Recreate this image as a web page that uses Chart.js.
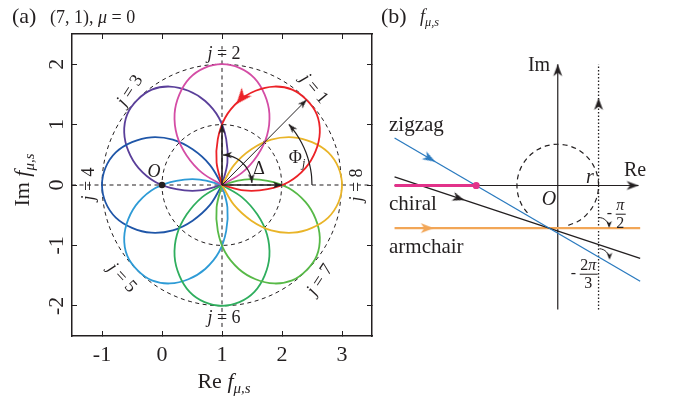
<!DOCTYPE html>
<html><head><meta charset="utf-8">
<script src="https://cdn.jsdelivr.net/npm/chart.js@4.4.1/dist/chart.umd.min.js"></script>
<style>
html,body{margin:0;padding:0;background:#fff;}
#wrap{position:relative;width:678px;height:403px;overflow:hidden;font-family:"Liberation Serif","Times New Roman",serif;color:#231f20;}
#ca{position:absolute;left:0;top:0;}
#cb{position:absolute;left:378px;top:0;}
.t{position:absolute;white-space:nowrap;line-height:1;transform:translate(-50%,-50%);}
.l{position:absolute;white-space:nowrap;line-height:1;transform:translate(0,-50%);}
i{font-style:italic;}
sub{font-size:0.68em;vertical-align:-0.35em;line-height:0;}
.frac{display:inline-flex;flex-direction:column;align-items:center;vertical-align:middle;}
.frac span{line-height:1.05;}
.frac .num{border-bottom:1px solid #231f20;padding:0 1px;}
</style></head><body>
<div id="wrap">
<canvas id="ca" width="378" height="403"></canvas>
<canvas id="cb" width="300" height="403"></canvas>

<div class="l" style="left:12px;top:16px;font-size:22px">(a)</div>
<div class="l" style="left:50px;top:17px;font-size:18px">(7, 1), <i>μ</i> = 0</div>
<div class="t" style="left:224px;top:381px;font-size:22px">Re <i>f</i><sub><i>μ,s</i></sub></div>
<div class="t" style="left:22px;top:180px;font-size:22px;transform:translate(-50%,-50%) rotate(-90deg)">Im <i>f</i><sub><i>μ,s</i></sub></div>

<div class="t" style="left:224px;top:53px;font-size:18px"><i>j</i> = 2</div>
<div class="t" style="left:224px;top:317px;font-size:18px"><i>j</i> = 6</div>
<div class="t" style="left:88px;top:184px;font-size:18px;transform:translate(-50%,-50%) rotate(-90deg)"><i>j</i> = 4</div>
<div class="t" style="left:356px;top:185px;font-size:18px;transform:translate(-50%,-50%) rotate(-90deg)"><i>j</i> = 8</div>
<div class="t" style="left:129px;top:90px;font-size:18px;transform:translate(-50%,-50%) rotate(-57deg)"><i>j</i> = 3</div>
<div class="t" style="left:315px;top:88px;font-size:18px;transform:translate(-50%,-50%) rotate(50deg)"><i>j</i> = 1</div>
<div class="t" style="left:123px;top:277px;font-size:18px;transform:translate(-50%,-50%) rotate(47deg)"><i>j</i> = 5</div>
<div class="t" style="left:319px;top:279px;font-size:18px;transform:translate(-50%,-50%) rotate(-57deg)"><i>j</i> = 7</div>
<div class="t" style="left:154px;top:171px;font-size:18px"><i>O</i></div>
<div class="t" style="left:259px;top:168px;font-size:18px">Δ</div>
<div class="t" style="left:297px;top:157px;font-size:18px">Φ<sub><i>j</i></sub></div>

<div class="l" style="left:381px;top:16px;font-size:22px">(b)</div>
<div class="l" style="left:420px;top:16px;font-size:18px"><i>f</i><sub><i>μ,s</i></sub></div>
<div class="t" style="left:539px;top:64px;font-size:20px">Im</div>
<div class="t" style="left:635px;top:169px;font-size:20px">Re</div>
<div class="t" style="left:590px;top:176px;font-size:20px"><i>r</i></div>
<div class="t" style="left:549px;top:198px;font-size:20px"><i>O</i></div>
<div class="l" style="left:389px;top:124px;font-size:21px">zigzag</div>
<div class="l" style="left:389px;top:203px;font-size:21px">chiral</div>
<div class="l" style="left:389px;top:246px;font-size:21px">armchair</div>
<div class="t" style="left:616px;top:214px;font-size:16px">-&thinsp;<span class="frac"><span class="num"><i>π</i></span><span>2</span></span></div>
<div class="t" style="left:584px;top:274px;font-size:16px">-&thinsp;<span class="frac"><span class="num">2<i>π</i></span><span>3</span></span></div>
</div>

<script>
// ---------- Panel (a) data ----------
const xTicks = [-1, 0, 1, 2, 3];
const yTicks = [-2, -1, 0, 1, 2];

const loopJ1 = [[1,0],[0.91,0.37],[0.93,0.76],[1.05,1.11],[1.28,1.39],[1.56,1.56],[1.87,1.63],[2.17,1.58],[2.41,1.41],[2.58,1.17],[2.63,0.87],[2.56,0.56],[2.39,0.28],[2.11,0.05],[1.76,-0.07],[1.37,-0.09],[1,0]];
const loopJ2 = [[1,0],[0.67,0.20],[0.41,0.49],[0.25,0.82],[0.21,1.18],[0.29,1.50],[0.46,1.77],[0.71,1.94],[1,2],[1.29,1.94],[1.54,1.77],[1.71,1.50],[1.79,1.18],[1.75,0.82],[1.59,0.49],[1.33,0.20],[1,0]];
const loopJ3 = [[1,0],[0.63,-0.09],[0.24,-0.07],[-0.11,0.05],[-0.39,0.28],[-0.56,0.56],[-0.63,0.87],[-0.58,1.17],[-0.41,1.41],[-0.17,1.58],[0.13,1.63],[0.44,1.56],[0.72,1.39],[0.95,1.11],[1.07,0.76],[1.09,0.37],[1,0]];
const loopJ4 = [[1,0],[0.80,-0.33],[0.51,-0.59],[0.18,-0.75],[-0.18,-0.79],[-0.50,-0.71],[-0.77,-0.54],[-0.94,-0.29],[-1,0],[-0.94,0.29],[-0.77,0.54],[-0.50,0.71],[-0.18,0.79],[0.18,0.75],[0.51,0.59],[0.80,0.33],[1,0]];
const loopJ5 = [[1,0],[1.09,-0.37],[1.07,-0.76],[0.95,-1.11],[0.72,-1.39],[0.44,-1.56],[0.13,-1.63],[-0.17,-1.58],[-0.41,-1.41],[-0.58,-1.17],[-0.63,-0.87],[-0.56,-0.56],[-0.39,-0.28],[-0.11,-0.05],[0.24,0.07],[0.63,0.09],[1,0]];
const loopJ6 = [[1,0],[1.33,-0.20],[1.59,-0.49],[1.75,-0.82],[1.79,-1.18],[1.71,-1.50],[1.54,-1.77],[1.29,-1.94],[1,-2],[0.71,-1.94],[0.46,-1.77],[0.29,-1.50],[0.21,-1.18],[0.25,-0.82],[0.41,-0.49],[0.67,-0.20],[1,0]];
const loopJ7 = [[1,0],[1.37,0.09],[1.76,0.07],[2.11,-0.05],[2.39,-0.28],[2.56,-0.56],[2.63,-0.87],[2.58,-1.17],[2.41,-1.41],[2.17,-1.58],[1.87,-1.63],[1.56,-1.56],[1.28,-1.39],[1.05,-1.11],[0.93,-0.76],[0.91,-0.37],[1,0]];
const loopJ8 = [[1,0],[1.20,0.33],[1.49,0.59],[1.82,0.75],[2.18,0.79],[2.50,0.71],[2.77,0.54],[2.94,0.29],[3,0],[2.94,-0.29],[2.77,-0.54],[2.50,-0.71],[2.18,-0.79],[1.82,-0.75],[1.49,-0.59],[1.20,-0.33],[1,0]];

const innerCircle = [[2,0],[1.966,0.259],[1.866,0.5],[1.707,0.707],[1.5,0.866],[1.259,0.966],[1,1],[0.741,0.966],[0.5,0.866],[0.293,0.707],[0.134,0.5],[0.034,0.259],[0,0],[0.034,-0.259],[0.134,-0.5],[0.293,-0.707],[0.5,-0.866],[0.741,-0.966],[1,-1],[1.259,-0.966],[1.5,-0.866],[1.707,-0.707],[1.866,-0.5],[1.966,-0.259],[2,0]];
const outerCircle = [[3,0],[2.932,0.518],[2.732,1],[2.414,1.414],[2,1.732],[1.518,1.932],[1,2],[0.482,1.932],[0,1.732],[-0.414,1.414],[-0.732,1],[-0.932,0.518],[-1,0],[-0.932,-0.518],[-0.732,-1],[-0.414,-1.414],[0,-1.732],[0.482,-1.932],[1,-2],[1.518,-1.932],[2,-1.732],[2.414,-1.414],[2.732,-1],[2.932,-0.518],[3,0]];
const reAxisDash = [[-1.5,0],[3.5,0]];
const imAxisDash = [[1,-2.35],[1,2.3]];

const vecPhi = [[1,0],[2.41,1.41]];
const vecUp = [[1,0],[1,1]];
const vecRight = [[1,0],[2,0]];
const arcDelta = [[1.499,0.035],[1.476,0.155],[1.424,0.265],[1.347,0.360],[1.25,0.433],[1.138,0.481],[1.017,0.500]];
const arcPhi = [[2.5,0],[2.489,0.183],[2.455,0.363],[2.400,0.538],[2.324,0.704],[2.229,0.860],[2.115,1.004]];
const originPoint = [[0,0]];
const aArrowTips = [[2.41,1.41],[1,1],[2,0],[1.017,0.500],[1.499,0.035],[2.115,1.004]];
const aArrowAngles = [-45, -90, 0, -178, 86, -132];
const redArrowTip = [[1.24,1.34]];
const redArrowAngle = [130];

// ---------- Panel (b) data ----------
const bRange = {xMin: -4.2588, xMax: 2.8, yMin: -5.1294, yMax: 4.3529};
const bImAxis = [[0,-3.01],[0,2.94]];
const bReAxis = [[-4.0,0],[1.98,0]];
const bDotted = [[1,-3.01],[1,2.94]];
const bPink = [[-4.0,0],[-2.0,0]];
const bPinkDot = [[-2.0,0]];
const bZigzag = [[-4.0,1.152],[2.02,-2.322]];
const bChiral = [[-4.0,0.208],[2.02,-1.766]];
const bArmchair = [[-4.0,-1.035],[2.02,-1.035]];
const bCircleArc = [[0.259,-0.966],[0.5,-0.866],[0.707,-0.707],[0.866,-0.5],[0.966,-0.259],[1,0],[0.966,0.259],[0.866,0.5],[0.707,0.707],[0.5,0.866],[0.259,0.966],[0,1],[-0.259,0.966],[-0.5,0.866],[-0.707,0.707],[-0.866,0.5],[-0.966,0.259],[-1,0],[-0.966,-0.259],[-0.866,-0.5],[-0.707,-0.707]];
const bAngleArc1 = [[1.009,-0.775],[1.097,-0.794],[1.174,-0.842],[1.230,-0.913],[1.256,-0.990]];
const bAngleArc2 = [[1.024,-1.531],[1.114,-1.555],[1.191,-1.609],[1.245,-1.686],[1.267,-1.762]];
const bAxisTips = [[0,2.94],[1.98,0],[1,2.12],[-2.29,-0.353]];
const bAxisAngles = [-90, 0, -90, 18];
const bSmallTips = [[1.26,-1.03],[1.27,-1.80]];
const bSmallAngles = [90, 90];
const bBlueTip = [[-3.0,0.575]];
const bBlueAngle = [30];
const bOrangeTip = [[-3.04,-1.035]];
const bOrangeAngle = [0];

// ---------- helpers ----------
const INK = '#231f20';
const toXY = a => a.map(p => ({x: p[0], y: p[1]}));
function makeArrow(color, L, W, notch) {
  const s = Math.ceil(2 * L) + 2;
  const c = document.createElement('canvas');
  c.width = s; c.height = s;
  const g = c.getContext('2d');
  const cx = s / 2, cy = s / 2;
  g.fillStyle = color;
  g.beginPath();
  g.moveTo(cx, cy);
  g.lineTo(cx - L, cy - W / 2);
  g.lineTo(cx - L + notch, cy);
  g.lineTo(cx - L, cy + W / 2);
  g.closePath();
  g.fill();
  return c;
}
function lineDS(pts, color, width, dash, tension) {
  return {data: toXY(pts), showLine: true, borderColor: color, borderWidth: width,
    borderDash: dash || [], pointRadius: 0, pointHoverRadius: 0, tension: tension || 0, fill: false};
}
function arrowDS(pts, angles, img) {
  return {data: toXY(pts), showLine: false, pointStyle: img, pointRadius: 5, pointHoverRadius: 5,
    pointRotation: angles, clip: false};
}
function dotDS(pts, color, r) {
  return {data: toXY(pts), showLine: false, pointStyle: 'circle', pointRadius: r, pointHoverRadius: r,
    pointBackgroundColor: color, pointBorderColor: color, pointBorderWidth: 0};
}

const smallBlack = makeArrow(INK, 9, 6.5, 2.5);
const redHead = makeArrow('#ec2227', 16, 13, 4.5);
const bBlackHead = makeArrow(INK, 12, 9, 3.5);
const bBlueHead = makeArrow('#2a7abf', 13, 9, 3.5);
const bOrangeHead = makeArrow('#f2a657', 13, 10, 3.5);
const bSmallHead = makeArrow(INK, 7, 5.5, 2);

const serif = 'Liberation Serif';
const axisTicks = vals => (s => { s.ticks = vals.map(v => ({value: v})); });
const frameGrid = {drawOnChartArea: false, drawTicks: true, tickLength: -5, color: INK, lineWidth: 1};
const frameBorder = {display: true, color: INK, width: 1.5};

// ---------- Chart (a) ----------
new Chart(document.getElementById('ca'), {
  type: 'scatter',
  data: {datasets: [
    arrowDS(redArrowTip, redArrowAngle, redHead),
    arrowDS(aArrowTips, aArrowAngles, smallBlack),
    lineDS(vecPhi, INK, 1),
    lineDS(vecUp, INK, 1.6),
    lineDS(vecRight, INK, 1.6),
    lineDS(arcDelta, INK, 1.2, [], 0.35),
    lineDS(arcPhi, INK, 1.2, [], 0.35),
    dotDS(originPoint, INK, 3.3),
    lineDS(loopJ1, '#ec2227', 1.8, [], 0.35),
    lineDS(loopJ2, '#d44da5', 1.8, [], 0.35),
    lineDS(loopJ8, '#e9b428', 1.8, [], 0.35),
    lineDS(loopJ7, '#57b947', 1.8, [], 0.35),
    lineDS(loopJ6, '#2fae5e', 1.8, [], 0.35),
    lineDS(loopJ5, '#2e9bd6', 1.8, [], 0.35),
    lineDS(loopJ4, '#1f56a8', 1.8, [], 0.35),
    lineDS(loopJ3, '#5a3f9a', 1.8, [], 0.35),
    lineDS(innerCircle, INK, 1, [4, 3.5], 0.34),
    lineDS(outerCircle, INK, 1, [4, 3.5], 0.34),
    lineDS(reAxisDash, INK, 1, [4, 3.5]),
    lineDS(imAxisDash, INK, 1, [4, 3.5])
  ]},
  options: {
    responsive: false, animation: false, devicePixelRatio: 1,
    layout: {padding: {top: 34, right: 4, left: 0, bottom: 0}},
    plugins: {legend: {display: false}, tooltip: {enabled: false}},
    events: [],
    scales: {
      x: {type: 'linear', position: 'bottom', min: -1.5, max: 3.5,
        afterBuildTicks: axisTicks(xTicks), afterFit: s => { s.height = 67; },
        grid: frameGrid, border: frameBorder,
        ticks: {font: {family: serif, size: 22}, color: INK, padding: 11, maxRotation: 0, autoSkip: false}},
      x2: {type: 'linear', position: 'top', min: -1.5, max: 3.5,
        afterBuildTicks: axisTicks(xTicks), afterFit: s => { s.height = 0; },
        grid: frameGrid, border: frameBorder, ticks: {display: false}},
      y: {type: 'linear', position: 'left', min: -2.5, max: 2.5,
        afterBuildTicks: axisTicks(yTicks), afterFit: s => { s.width = 72; },
        grid: frameGrid, border: frameBorder,
        ticks: {font: {family: serif, size: 22}, color: INK, padding: 11, crossAlign: 'center',
          minRotation: 90, maxRotation: 90, autoSkip: false}},
      y2: {type: 'linear', position: 'right', min: -2.5, max: 2.5,
        afterBuildTicks: axisTicks(yTicks), afterFit: s => { s.width = 0; },
        grid: frameGrid, border: frameBorder, ticks: {display: false}}
    }
  }
});

// ---------- Chart (b) ----------
new Chart(document.getElementById('cb'), {
  type: 'scatter',
  data: {datasets: [
    arrowDS(bAxisTips, bAxisAngles, bBlackHead),
    arrowDS(bSmallTips, bSmallAngles, bSmallHead),
    arrowDS(bBlueTip, bBlueAngle, bBlueHead),
    arrowDS(bOrangeTip, bOrangeAngle, bOrangeHead),
    dotDS(bPinkDot, '#e2328a', 3.6),
    lineDS(bPink, '#e2328a', 3),
    lineDS(bZigzag, '#2a7abf', 1.3),
    lineDS(bChiral, INK, 1.3),
    lineDS(bArmchair, '#f2a657', 2.4),
    lineDS(bAngleArc1, INK, 1, [], 0.35),
    lineDS(bAngleArc2, INK, 1, [], 0.35),
    lineDS(bDotted, INK, 1.3, [1.5, 2]),
    lineDS(bCircleArc, INK, 1.2, [5, 4], 0.34),
    lineDS(bImAxis, INK, 1.2),
    lineDS(bReAxis, INK, 1.2)
  ]},
  options: {
    responsive: false, animation: false, devicePixelRatio: 1,
    layout: {padding: 0},
    plugins: {legend: {display: false}, tooltip: {enabled: false}},
    events: [],
    scales: {
      x: {type: 'linear', display: false, min: bRange.xMin, max: bRange.xMax},
      y: {type: 'linear', display: false, min: bRange.yMin, max: bRange.yMax}
    }
  }
});
</script>
</body></html>
